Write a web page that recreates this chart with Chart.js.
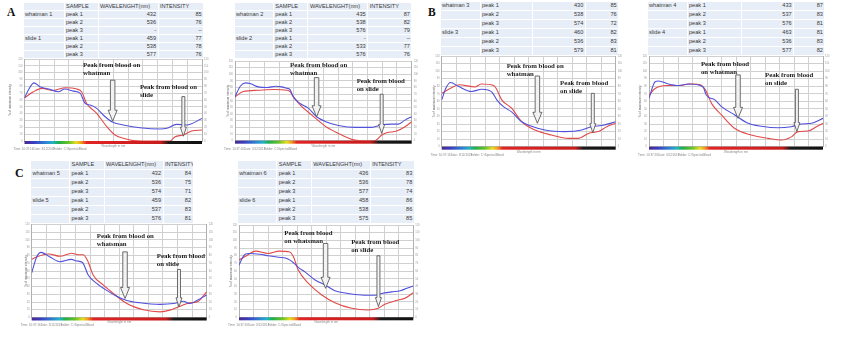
<!DOCTYPE html>
<html>
<head>
<meta charset="utf-8">
<script src="https://cdn.jsdelivr.net/npm/chart.js@4"></script>
<style>
  body { margin: 0; width: 841px; height: 338px; overflow: hidden; position: relative; background: #fff; font-family: "Liberation Sans", Arial, sans-serif; }
  .tag { position: absolute; font: bold 11.5px/1 "Liberation Serif", "Times New Roman", serif; color: #111; }
  table.pk { position: absolute; border-collapse: collapse; table-layout: fixed; font-size: 5.6px; color: #383838; }
  table.pk td { background: #e8eef7; border: 1px solid #fff; padding: 0 1.5px; white-space: nowrap; overflow: hidden; line-height: 1; }
  table.pk td.num { text-align: right; }
  canvas { position: absolute; }
</style>
</head>
<body>
<div class="tag" style="left:7px;top:7px">A</div>
<div class="tag" style="left:428px;top:7px">B</div>
<div class="tag" style="left:15px;top:167px;font-size:12px">C</div>
<script>
// peak tables: [wavelength nm, intensity] for peak 1..3
const whatman1 = [[432, 85], [536, 76], ['-', '–']];
const slide1   = [[459, 77], [538, 78], [577, 76]];
const whatman2 = [[435, 87], [538, 82], [576, 79]];
const slide2   = [['-', '–'], [533, 77], [576, 76]];
const whatman3 = [[430, 85], [538, 76], [574, 72]];
const slide3   = [[460, 82], [536, 83], [579, 81]];
const whatman4 = [[433, 87], [537, 83], [576, 81]];
const slide4   = [[463, 81], [536, 83], [577, 82]];
const whatman5 = [[432, 84], [536, 75], [574, 71]];
const slide5   = [[459, 82], [537, 83], [576, 81]];
const whatman6 = [[436, 83], [536, 78], [577, 74]];
const slide6   = [[458, 86], [538, 86], [575, 85]];

// reflectance curves (% of maximum intensity vs wavelength), whatman = blue, slide = red
const blue1X = [400, 415, 452, 486, 514, 565, 588, 605, 622, 644, 666, 695, 734, 790, 858, 881, 914, 948, 1000];
const blue1Y = [63, 76, 79.5, 75.6, 72, 73, 70, 55, 52.7, 47.8, 38, 28.3, 23.4, 19.5, 17.6, 18.6, 24.4, 23.4, 33];
const red1X  = [400, 430, 497, 593, 610, 644, 678, 706, 734, 768, 800, 892, 909, 937, 965, 1000];
const red1Y  = [63, 72, 74, 72, 55, 40.5, 21, 8.8, 4, 0.5, 0, 0, 6.3, 8.8, 14.6, 16];

const blue2X = [400, 418, 451, 479, 508, 560, 587, 598, 621, 649, 677, 706, 751, 808, 864, 898, 932, 955, 977, 1000];
const blue2Y = [66, 82, 86, 81, 80, 81, 77, 66, 56, 49, 36, 29, 23, 20, 20, 24, 25, 25, 31, 36];
const red2X  = [400, 428, 479, 587, 594, 621, 660, 706, 751, 796, 830, 875, 898, 915, 949, 977, 1000];
const red2Y  = [66, 74, 76, 74, 69, 54, 39, 22, 11, 2, 0, 0, 8.5, 12, 14.5, 21, 28.6];

const blue3X = [400, 415, 457, 503, 560, 590, 613, 641, 676, 710, 756, 825, 883, 917, 952, 1000];
const blue3Y = [62, 78, 80, 73, 75, 62, 53, 46, 33, 27, 22, 20, 22, 26.5, 28, 33];
const red3X  = [400, 429, 515, 588, 607, 641, 676, 722, 779, 837, 871, 906, 940, 969, 1000];
const red3Y  = [70.6, 77, 79, 77, 62, 51, 33, 22, 15.4, 11, 11, 17.6, 20, 26.5, 31];

const blue4X = [400, 421, 467, 501, 588, 598, 627, 650, 696, 742, 788, 845, 891, 926, 960, 1000];
const blue4Y = [64, 86, 83, 81, 78, 68, 62, 53, 42, 31, 27, 25, 26.5, 30, 31, 37.5];
const red4X  = [400, 421, 510, 553, 595, 616, 650, 696, 753, 811, 857, 891, 914, 948, 977, 1000];
const red4Y  = [68, 77, 81, 83, 75, 57, 42, 24, 15.4, 11, 8.8, 13, 20, 20.7, 26.5, 31];

const blue5X = [400, 417, 463, 497, 554, 594, 623, 657, 691, 726, 771, 840, 886, 920, 943, 966, 1000];
const blue5Y = [57.6, 78, 78, 72, 73, 54.6, 44, 35, 27.5, 22, 19, 17, 18, 21, 18, 22, 29];
const red5X  = [400, 417, 440, 497, 560, 591, 611, 646, 680, 726, 783, 840, 874, 909, 943, 966, 1000];
const red5Y  = [75, 78, 81, 79, 81, 74, 54.6, 41.7, 31, 18, 10, 7.3, 9.5, 14.6, 19, 20, 33];

const blue6X = [400, 421, 472, 501, 560, 590, 604, 627, 662, 696, 730, 776, 822, 868, 891, 926, 955, 978, 1000];
const blue6Y = [68, 82, 82, 80, 77, 70, 65, 59, 48.5, 42, 34.6, 31, 29, 28.6, 31, 33, 34.6, 37.7, 40.7];
const red6X  = [400, 421, 501, 587, 604, 639, 685, 730, 788, 845, 879, 902, 926, 948, 971, 1000];
const red6Y  = [74.5, 79, 83, 79, 61.5, 44, 29, 19, 11.7, 9.5, 11.7, 17, 20, 22.5, 24.7, 32];

// hand-drawn arrows: [wavelength, top %, tip %]  (whatman first, slide second)
const arrows1 = [[698, 89, 29], [937, 65, 7]];
const arrows2 = [[677, 95, 36], [898, 70, 11]];
const arrows3 = [[730, 93.5, 31], [921, 70.6, 18.5]];
const arrows4 = [[707, 95, 37.5], [910, 76, 20]];
const arrows5 = [[720, 84.7, 24.5], [905, 62, 13.8]];
const arrows6 = [[698, 96, 37.7], [880, 80, 13.9]];

// arrow captions: [wavelength, %, line 1, line 2]
const notes1 = [[598, 111, 'Peak from blood on', 'whatman'], [790, 79, 'Peak from blood on', 'slide']];
const notes2 = [[587, 114, 'Peak from blood on', 'whatman'], [813, 89, 'Peak from blood', 'on slide']];
const notes3 = [[624, 106.8, 'Peak from blood on', 'whatman'], [808, 84, 'Peak from blood', 'on slide']];
const notes4 = [[579, 109, 'Peak from blood', 'on whatman'], [800, 95, 'Peak from blood', 'on slide']];
const notes5 = [[623, 105, 'Peak from blood on', 'whatsman'], [829, 78.5, 'Peak from blood', 'on slide']];
const notes6 = [[556, 109, 'Peak from blood', 'on whatsman'], [786, 98, 'Peak from blood', 'on slide']];

const ARROW_STYLE = [
  { shaft: 4.5, head: 9, headLen: 11 },
  { shaft: 3, head: 6, headLen: 9 }
];

// colour strip under the wavelength axis
const specStops = [[400, '#4b2a8c'], [430, '#3a3cc0'], [470, '#2f80d2'], [495, '#22b2c8'], [515, '#1fae4a'],
  [550, '#6cc22a'], [575, '#e4e020'], [592, '#f39a1e'], [610, '#e22424'], [860, '#c81c1c'], [888, '#1a1a1a'], [1000, '#111']];

const FOOTER = ['Time: 10:37:16', 'Date: 3/12/2015', 'Folder: C:\\Spectra\\Blood'];

function series(xs, ys, peaks) {
  const pk = peaks.filter(p => typeof p[0] === 'number');
  const pts = xs.map((x, i) => ({ x: x, y: ys[i] }))
    .filter(p => !pk.some(q => Math.abs(q[0] - p.x) < 3));
  pk.forEach(q => pts.push({ x: q[0], y: q[1] }));
  return pts.sort((a, b) => a.x - b.x);
}

function drawArrow(ctx, px, yTop, yTip, st) {
  const hy = yTip - st.headLen;
  ctx.beginPath();
  ctx.moveTo(px - st.shaft / 2, yTop);
  ctx.lineTo(px + st.shaft / 2, yTop);
  ctx.lineTo(px + st.shaft / 2, hy);
  ctx.lineTo(px + st.head / 2, hy);
  ctx.lineTo(px, yTip);
  ctx.lineTo(px - st.head / 2, hy);
  ctx.lineTo(px - st.shaft / 2, hy);
  ctx.closePath();
  ctx.fillStyle = '#f2f2f2';
  ctx.fill();
  ctx.strokeStyle = '#4a4a4a';
  ctx.lineWidth = 0.8;
  ctx.stroke();
}

const decor = {
  id: 'decor',
  afterDatasetsDraw(chart, args, o) {
    const ctx = chart.ctx, a = chart.chartArea, x = chart.scales.x, y = chart.scales.y;
    ctx.save();
    const g = ctx.createLinearGradient(x.getPixelForValue(400), 0, x.getPixelForValue(1000), 0);
    specStops.forEach(s => g.addColorStop((s[0] - 400) / 600, s[1]));
    ctx.fillStyle = g;
    ctx.fillRect(a.left, a.bottom, a.right - a.left, 3);

    o.arrows.forEach((ar, i) => drawArrow(ctx, x.getPixelForValue(ar[0]), y.getPixelForValue(ar[1]), y.getPixelForValue(ar[2]), ARROW_STYLE[i]));

    ctx.font = 'bold 6.8px "Liberation Serif", "Times New Roman", serif';
    ctx.fillStyle = '#1c1c1c';
    ctx.textBaseline = 'middle';
    ctx.textAlign = 'left';
    o.notes.forEach(n => {
      const px = x.getPixelForValue(n[0]), py = y.getPixelForValue(n[1]);
      ctx.fillText(n[2], px, py);
      ctx.fillText(n[3], px, py + 8);
    });

    ctx.font = '3px "Liberation Sans", Arial, sans-serif';
    ctx.fillStyle = '#888';
    ctx.textAlign = 'center';
    ctx.fillText('Wavelength in nm', (a.left + a.right) / 2, a.bottom + 5);
    ctx.textAlign = 'left';
    FOOTER.forEach((t, i) => ctx.fillText(t, a.left - 11 + i * 20, a.bottom + 8));
    ctx.restore();
  }
};

const panels = [
  { canvas: [0, 55, 215, 100], plot: [24.5, 202, 59, 141], titleX: 10,
    blue: series(blue1X, blue1Y, whatman1), red: series(red1X, red1Y, slide1), arrows: arrows1, notes: notes1 },
  { canvas: [220, 57, 205, 98], plot: [235, 411.7, 61, 140.7], titleX: 227.7,
    blue: series(blue2X, blue2Y, whatman2), red: series(red2X, red2Y, slide2), arrows: arrows2, notes: notes2 },
  { canvas: [425, 52, 207, 110], plot: [441.7, 615.7, 56, 146.7], titleX: 434.3,
    blue: series(blue3X, blue3Y, whatman3), red: series(red3X, red3Y, slide3), arrows: arrows3, notes: notes3 },
  { canvas: [632, 52, 209, 110], plot: [649, 823, 56, 146.7], titleX: 640,
    blue: series(blue4X, blue4Y, whatman4), red: series(red4X, red4Y, slide4), arrows: arrows4, notes: notes4 },
  { canvas: [0, 220, 225, 110], plot: [31.7, 206.7, 224.5, 317.5], titleX: 26.5,
    blue: series(blue5X, blue5Y, whatman5), red: series(red5X, red5Y, slide5), arrows: arrows5, notes: notes5 },
  { canvas: [225, 220, 205, 110], plot: [239, 413.3, 225, 317.3], titleX: 231,
    blue: series(blue6X, blue6Y, whatman6), red: series(red6X, red6Y, slide6), arrows: arrows6, notes: notes6 }
];

const tables = [
  { left: 22.5, top: 2, rowH: 8, cols: [41, 34, 60, 45.7], head: 'WAVELENGHT(nm)', names: ['whatman 1', 'slide 1'], w: whatman1, s: slide1 },
  { left: 233.5, top: 2, rowH: 8, cols: [39.3, 34.7, 59.7, 44.3], head: 'WAVELENGHT(nm)', names: ['whatman 2', 'slide 2'], w: whatman2, s: slide2 },
  { left: 439.5, top: 0.5, rowH: 9, cols: [40, 52, 53.3, 33.4], head: null, names: ['whatman 3', 'slide 3'], w: whatman3, s: slide3 },
  { left: 646.5, top: 0.5, rowH: 9, cols: [40, 54, 52.7, 31.3], head: null, names: ['whatman 4', 'slide 4'], w: whatman4, s: slide4 },
  { left: 30, top: 159.5, rowH: 9, cols: [39, 34.5, 59, 30], head: 'WAVELENGHT(nm)', names: ['whatman 5', 'slide 5'], w: whatman5, s: slide5 },
  { left: 236.8, top: 159.5, rowH: 9, cols: [39.4, 34.6, 59, 44], head: 'WAVELENGHT(rm)', names: ['whatman 6', 'slide 6'], w: whatman6, s: slide6 }
];

function buildTable(t) {
  const tb = document.createElement('table');
  tb.className = 'pk';
  tb.style.left = t.left + 'px';
  tb.style.top = t.top + 'px';
  tb.style.width = t.cols.reduce((a, b) => a + b, 0) + 'px';
  const cg = document.createElement('colgroup');
  t.cols.forEach(w => { const c = document.createElement('col'); c.style.width = w + 'px'; cg.appendChild(c); });
  tb.appendChild(cg);
  const rows = [];
  if (t.head) rows.push({ cells: ['', 'SAMPLE', t.head, 'INTENSITY'], head: true });
  [t.w, t.s].forEach((grp, gi) => grp.forEach((r, i) =>
    rows.push({ cells: [i ? '' : t.names[gi], 'peak ' + (i + 1), r[0], r[1]], head: false })));
  rows.forEach(r => {
    const tr = tb.insertRow();
    r.cells.forEach((v, ci) => {
      const td = tr.insertCell();
      td.textContent = v;
      td.style.height = (t.rowH - 1) + 'px';
      if (!r.head && ci >= 2) td.className = 'num';
    });
  });
  document.body.appendChild(tb);
}

function buildChart(p) {
  const [cl, ct, cw, ch] = p.canvas;
  const [pl, pr, pt, pb] = p.plot;
  const cv = document.createElement('canvas');
  cv.width = cw; cv.height = ch;
  cv.style.left = cl + 'px'; cv.style.top = ct + 'px';
  cv.style.width = cw + 'px'; cv.style.height = ch + 'px';
  document.body.appendChild(cv);

  const leftW = pl - cl, rightW = cl + cw - pr, botH = ct + ch - pb;
  const tickFont = { size: 2.6, family: '"Liberation Sans", Arial, sans-serif' };
  const grid = { color: '#d0d0d0', lineWidth: 1, drawTicks: false };

  new Chart(cv, {
    type: 'line',
    data: {
      datasets: [
        { data: p.blue, borderColor: '#5050dc', borderWidth: 1.1, pointRadius: 0, cubicInterpolationMode: 'monotone' },
        { data: p.red, borderColor: '#e24a4a', borderWidth: 1.1, pointRadius: 0, cubicInterpolationMode: 'monotone' }
      ]
    },
    options: {
      responsive: false,
      devicePixelRatio: 1,
      animation: false,
      layout: { autoPadding: false, padding: { top: pt - ct, left: 0, right: 0, bottom: 0 } },
      plugins: {
        legend: { display: false },
        tooltip: { enabled: false },
        decor: { arrows: p.arrows, notes: p.notes }
      },
      scales: {
        x: {
          type: 'linear', min: 400, max: 1000,
          ticks: { stepSize: 50, display: false },
          grid: grid,
          border: { color: '#b0b0b0' },
          afterFit: s => { s.height = botH; }
        },
        y: {
          min: 0, max: 120,
          ticks: { stepSize: 10, font: tickFont, color: '#9a9a9a', padding: 2 },
          grid: grid,
          border: { color: '#b0b0b0' },
          title: { display: true, text: '% of maximum intensity', font: { size: 3, family: tickFont.family }, color: '#6a6a6a',
                   padding: { top: p.titleX - cl - 1.8, bottom: 0 } },
          afterFit: s => { s.width = leftW; }
        },
        y2: {
          position: 'right', min: 0, max: 120,
          ticks: { stepSize: 10, font: tickFont, color: '#9a9a9a', padding: 2 },
          grid: { display: false, drawTicks: false },
          border: { color: '#b0b0b0' },
          afterFit: s => { s.width = rightW; }
        }
      }
    },
    plugins: [decor]
  });
}

tables.forEach(buildTable);
panels.forEach(buildChart);
</script>
</body>
</html>
